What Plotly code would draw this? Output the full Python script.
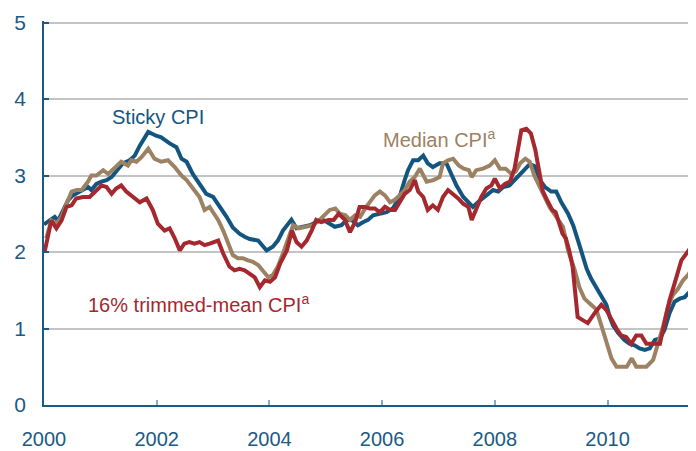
import plotly.graph_objects as go

# ---- data (decimal year, percent) ----
sticky_x = [2000.00, 2000.19, 2000.25, 2000.43, 2000.51, 2000.63, 2000.78, 2000.84, 2000.93, 2001.02,
            2001.11, 2001.20, 2001.31, 2001.40, 2001.52, 2001.61, 2001.70, 2001.85, 2001.99, 2002.08,
            2002.23, 2002.35, 2002.44, 2002.53, 2002.64, 2002.76, 2002.88, 2003.00, 2003.12, 2003.24,
            2003.35, 2003.47, 2003.56, 2003.65, 2003.80, 2003.95, 2004.06, 2004.15, 2004.24, 2004.39,
            2004.48, 2004.60, 2004.72, 2004.83, 2004.95, 2005.07, 2005.16, 2005.28, 2005.37, 2005.46,
            2005.57, 2005.66, 2005.75, 2005.84, 2005.96, 2006.08, 2006.19, 2006.31, 2006.40, 2006.46,
            2006.55, 2006.64, 2006.73, 2006.81, 2006.90, 2007.02, 2007.14, 2007.23, 2007.32, 2007.44,
            2007.52, 2007.61, 2007.70, 2007.79, 2007.88, 2007.97, 2008.06, 2008.15, 2008.26, 2008.38,
            2008.50, 2008.62, 2008.71, 2008.80, 2008.89, 2009.00, 2009.09, 2009.18, 2009.30, 2009.39,
            2009.51, 2009.63, 2009.71, 2009.80, 2009.89, 2009.98, 2010.04, 2010.10, 2010.19, 2010.30,
            2010.39, 2010.48, 2010.57, 2010.66, 2010.75, 2010.84, 2010.93, 2011.01, 2011.10, 2011.19,
            2011.28, 2011.37, 2011.43, 2011.52]
sticky_y = [2.36, 2.46, 2.41, 2.68, 2.74, 2.79, 2.85, 2.81, 2.89, 2.92,
            2.94, 2.98, 3.09, 3.16, 3.20, 3.26, 3.39, 3.57, 3.52, 3.50,
            3.42, 3.37, 3.22, 3.18, 3.02, 2.90, 2.76, 2.72, 2.60, 2.46,
            2.32, 2.24, 2.20, 2.17, 2.15, 2.02, 2.07, 2.15, 2.28, 2.42,
            2.31, 2.33, 2.35, 2.39, 2.42, 2.37, 2.33, 2.35, 2.42, 2.42,
            2.35, 2.39, 2.42, 2.48, 2.50, 2.52, 2.57, 2.72, 2.94, 3.07,
            3.20, 3.20, 3.26, 3.16, 3.11, 3.16, 3.16, 3.02, 2.87, 2.72,
            2.65, 2.59, 2.65, 2.70, 2.76, 2.81, 2.79, 2.85, 2.87, 2.96,
            3.05, 3.15, 3.12, 2.94, 2.85, 2.79, 2.79, 2.65, 2.50, 2.35,
            2.07, 1.78, 1.65, 1.54, 1.41, 1.31, 1.15, 1.04, 0.94, 0.85,
            0.80, 0.78, 0.74, 0.72, 0.74, 0.85, 0.87, 0.98, 1.20, 1.35,
            1.39, 1.41, 1.46, 1.52]

median_x = [2000.04, 2000.13, 2000.22, 2000.31, 2000.40, 2000.49, 2000.58, 2000.67, 2000.78, 2000.84,
            2000.93, 2001.05, 2001.14, 2001.25, 2001.37, 2001.49, 2001.55, 2001.64, 2001.73, 2001.85,
            2001.96, 2002.08, 2002.20, 2002.32, 2002.44, 2002.53, 2002.62, 2002.67, 2002.76, 2002.85,
            2002.94, 2003.00, 2003.09, 2003.18, 2003.27, 2003.35, 2003.44, 2003.53, 2003.62, 2003.71,
            2003.80, 2003.89, 2003.98, 2004.06, 2004.15, 2004.24, 2004.33, 2004.42, 2004.52, 2004.64,
            2004.77, 2004.89, 2004.98, 2005.07, 2005.17, 2005.25, 2005.35, 2005.43, 2005.52, 2005.61,
            2005.70, 2005.79, 2005.87, 2005.96, 2006.05, 2006.14, 2006.22, 2006.31, 2006.40, 2006.49,
            2006.58, 2006.67, 2006.79, 2006.91, 2007.02, 2007.08, 2007.17, 2007.26, 2007.36, 2007.45,
            2007.54, 2007.59, 2007.67, 2007.79, 2007.91, 2008.00, 2008.09, 2008.19, 2008.28, 2008.37,
            2008.45, 2008.54, 2008.62, 2008.70, 2008.80, 2008.89, 2008.97, 2009.09, 2009.21, 2009.30,
            2009.42, 2009.50, 2009.59, 2009.68, 2009.80, 2009.89, 2009.98, 2010.07, 2010.16, 2010.25,
            2010.34, 2010.43, 2010.51, 2010.60, 2010.69, 2010.81, 2010.90, 2010.99, 2011.07, 2011.16,
            2011.25, 2011.34, 2011.43, 2011.52]
median_y = [2.18, 2.41, 2.37, 2.46, 2.63, 2.79, 2.81, 2.81, 2.92, 3.00,
            3.00, 3.07, 3.02, 3.09, 3.18, 3.13, 3.20, 3.18, 3.24, 3.35,
            3.22, 3.18, 3.20, 3.11, 3.00, 2.94, 2.85, 2.79, 2.72, 2.55,
            2.59, 2.52, 2.42, 2.28, 2.11, 1.96, 1.92, 1.92, 1.89, 1.87,
            1.83, 1.74, 1.67, 1.70, 1.81, 1.98, 2.15, 2.35, 2.31, 2.33,
            2.35, 2.42, 2.48, 2.55, 2.57, 2.50, 2.48, 2.42, 2.48, 2.46,
            2.57, 2.65, 2.74, 2.79, 2.74, 2.65, 2.68, 2.74, 2.81, 2.92,
            2.98, 3.09, 2.92, 2.94, 2.98, 3.16, 3.20, 3.22, 3.13, 3.09,
            3.07, 2.98, 3.07, 3.09, 3.13, 3.20, 3.09, 3.09, 3.03, 3.05,
            3.16, 3.22, 3.18, 3.00, 2.85, 2.72, 2.59, 2.46, 2.33, 2.02,
            1.76, 1.54, 1.39, 1.33, 1.25, 1.04, 0.83, 0.61, 0.50, 0.50,
            0.50, 0.61, 0.50, 0.50, 0.50, 0.59, 0.80, 1.04, 1.28, 1.44,
            1.52, 1.63, 1.70, 1.81]

trimmed_x = [2000.01, 2000.07, 2000.13, 2000.22, 2000.31, 2000.40, 2000.49, 2000.57, 2000.69, 2000.81,
             2000.93, 2001.02, 2001.11, 2001.20, 2001.28, 2001.37, 2001.46, 2001.58, 2001.70, 2001.82,
             2001.93, 2002.02, 2002.14, 2002.23, 2002.32, 2002.41, 2002.49, 2002.58, 2002.67, 2002.76,
             2002.85, 2002.94, 2003.09, 2003.18, 2003.29, 2003.38, 2003.47, 2003.56, 2003.65, 2003.74,
             2003.83, 2003.92, 2004.01, 2004.10, 2004.19, 2004.31, 2004.40, 2004.48, 2004.57, 2004.66,
             2004.75, 2004.83, 2004.92, 2005.05, 2005.14, 2005.23, 2005.34, 2005.43, 2005.52, 2005.60,
             2005.69, 2005.78, 2005.87, 2005.96, 2006.05, 2006.14, 2006.23, 2006.31, 2006.40, 2006.49,
             2006.58, 2006.64, 2006.73, 2006.81, 2006.90, 2006.99, 2007.08, 2007.17, 2007.26, 2007.35,
             2007.44, 2007.53, 2007.59, 2007.67, 2007.76, 2007.85, 2007.94, 2008.00, 2008.09, 2008.18,
             2008.27, 2008.35, 2008.41, 2008.47, 2008.56, 2008.64, 2008.72, 2008.79, 2008.85, 2008.94,
             2009.02, 2009.08, 2009.14, 2009.20, 2009.26, 2009.32, 2009.38, 2009.47, 2009.56, 2009.65,
             2009.77, 2009.89, 2009.98, 2010.07, 2010.16, 2010.24, 2010.33, 2010.42, 2010.51, 2010.60,
             2010.69, 2010.81, 2010.93, 2011.01, 2011.10, 2011.19, 2011.31, 2011.40, 2011.49, 2011.53]
trimmed_y = [2.00, 2.24, 2.41, 2.31, 2.41, 2.59, 2.61, 2.70, 2.72, 2.72,
             2.81, 2.87, 2.85, 2.76, 2.83, 2.87, 2.79, 2.72, 2.65, 2.70,
             2.55, 2.37, 2.28, 2.31, 2.18, 2.02, 2.11, 2.13, 2.11, 2.13,
             2.09, 2.11, 2.15, 1.98, 1.81, 1.76, 1.78, 1.76, 1.72, 1.67,
             1.54, 1.63, 1.61, 1.67, 1.85, 2.02, 2.28, 2.13, 2.07, 2.15,
             2.28, 2.42, 2.39, 2.42, 2.42, 2.50, 2.42, 2.26, 2.39, 2.59,
             2.59, 2.57, 2.57, 2.52, 2.59, 2.55, 2.55, 2.65, 2.76, 2.81,
             2.94, 2.79, 2.72, 2.55, 2.61, 2.55, 2.72, 2.81, 2.76, 2.70,
             2.63, 2.59, 2.42, 2.55, 2.72, 2.83, 2.87, 2.96, 2.83, 2.89,
             2.92, 3.09, 3.31, 3.59, 3.61, 3.55, 3.33, 3.07, 2.80, 2.66,
             2.55, 2.52, 2.37, 2.24, 2.18, 2.02, 1.81, 1.15, 1.11, 1.07,
             1.20, 1.31, 1.24, 1.11, 1.00, 0.91, 0.89, 0.80, 0.91, 0.91,
             0.80, 0.80, 0.80, 1.07, 1.37, 1.59, 1.89, 1.98, 2.09, 2.12]

year_ticks = [2000, 2002, 2004, 2006, 2008, 2010]
year_labels = [str(y) for y in year_ticks]
value_ticks = [0, 1, 2, 3, 4, 5]

BLUE = "#13557f"
TAN = "#9c8262"
RED = "#a4282e"
TEXT_BLUE = "#1b5a84"
GRID = "#c4c4c4"
FONT = "Liberation Sans, Arial, sans-serif"

fig = go.Figure()
for xs, ys, col, name in [(sticky_x, sticky_y, BLUE, "Sticky CPI"),
                          (median_x, median_y, TAN, "Median CPI"),
                          (trimmed_x, trimmed_y, RED, "16% trimmed-mean CPI")]:
    fig.add_trace(go.Scatter(x=xs, y=ys, mode="lines", name=name,
                             line=dict(color=col, width=4), showlegend=False,
                             hoverinfo="skip", cliponaxis=False))

fig.add_annotation(x=2002.02, y=3.76, text="Sticky CPI", showarrow=False,
                   font=dict(family=FONT, size=20, color=BLUE))
fig.add_annotation(x=2007.01, y=3.49, text="Median CPI<sup>a</sup>", showarrow=False,
                   font=dict(family=FONT, size=20, color=TAN))
fig.add_annotation(x=2002.75, y=1.33, text="16% trimmed-mean CPI<sup>a</sup>", showarrow=False,
                   font=dict(family=FONT, size=20, color=RED))

# page body has an 8px margin, so the figure is sized/offset to place the plot area
fig.update_layout(
    width=688, height=443,
    margin=dict(l=36, r=0, t=13, b=46, autoexpand=False),
    paper_bgcolor="white", plot_bgcolor="white",
    font=dict(family=FONT, color=TEXT_BLUE),
    xaxis=dict(range=[2000, 2011.57], tickvals=year_ticks, ticktext=year_labels,
               automargin=False,
               showgrid=False, zeroline=False, showline=True, linecolor=TEXT_BLUE, linewidth=1.5,
               ticks="inside", ticklen=5, tickcolor="#8aaac4", tickwidth=1.5,
               tickfont=dict(family=FONT, size=20, color=TEXT_BLUE), ticklabelstandoff=15),
    yaxis=dict(range=[0, 5.02], tickvals=value_ticks, automargin=False,
               showgrid=True, gridcolor=GRID, gridwidth=1.5, zeroline=False,
               showline=True, linecolor=TEXT_BLUE, linewidth=1.5,
               ticks="inside", ticklen=5, tickcolor=TEXT_BLUE, tickwidth=1.5,
               tickfont=dict(family=FONT, size=21, color=TEXT_BLUE), ticklabelstandoff=12),
)

fig.write_html("out.html")
